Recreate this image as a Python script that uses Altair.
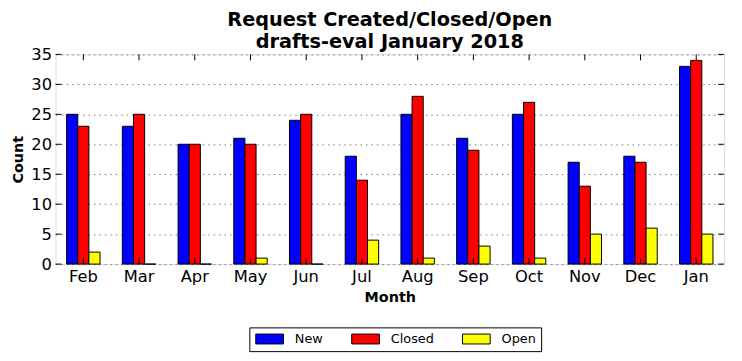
import altair as alt
import pandas as pd

months = ["Feb", "Mar", "Apr", "May", "Jun", "Jul", "Aug", "Sep", "Oct", "Nov", "Dec", "Jan"]
new_vals = [25, 23, 20, 21, 24, 18, 25, 21, 25, 17, 18, 33]
closed_vals = [23, 25, 20, 20, 25, 14, 28, 19, 27, 13, 17, 34]
open_vals = [2, 0, 0, 1, 0, 4, 1, 3, 1, 5, 6, 5]
series = ["New", "Closed", "Open"]
colors = ["#0000ff", "#ff0000", "#ffff00"]
y_ticks = [0, 5, 10, 15, 20, 25, 30, 35]

rows = []
for name, vals in zip(series, [new_vals, closed_vals, open_vals]):
    for m, v in zip(months, vals):
        rows.append({"Month": m, "Series": name, "Count": v})
df = pd.DataFrame(rows)
ticks_df = pd.DataFrame({"v": y_ticks})
months_df = pd.DataFrame({"Month": months})

W, H = 676, 212
FONT = "DejaVu Sans"

x_scale = alt.Scale(domain=months, paddingInner=0.4, paddingOuter=0.2)
y_scale = alt.Scale(domain=[0, 35], nice=False)

x_axis = alt.Axis(title="Month", labelAngle=0, labelFontSize=16.5, tickSize=0,
                  labelPadding=5, titleFontSize=14.5, titleFontWeight="bold",
                  titlePadding=5, domain=False, labelColor="black", titleColor="black")
y_axis = alt.Axis(title="Count", values=y_ticks, labelFontSize=16.5, tickSize=0,
                  labelPadding=4, titleFontSize=14.5, titleFontWeight="bold",
                  titlePadding=5, domain=False, grid=True, gridColor="#7a7a7a",
                  gridDash=[1.5, 4], gridWidth=1, labelColor="black", titleColor="black",
                  labelOverlap=False, labelBaseline="middle")

bars = alt.Chart(df).mark_bar(stroke="black", strokeWidth=1).encode(
    x=alt.X("Month:N", scale=x_scale, sort=months, axis=x_axis),
    xOffset=alt.XOffset("Series:N", sort=series, scale=alt.Scale(domain=series, paddingInner=0, paddingOuter=0)),
    y=alt.Y("Count:Q", scale=y_scale, axis=y_axis),
    color=alt.Color("Series:N", sort=series,
                    scale=alt.Scale(domain=series, range=colors),
                    legend=alt.Legend(title=None, orient="none", legendX=196, legendY=276,
                                      direction="horizontal",
                                      symbolType="M-1,-1H4.6V1H-1Z", symbolSize=100,
                                      symbolStrokeColor="black", symbolStrokeWidth=1,
                                      labelFontSize=13, labelColor="black", labelOffset=28,
                                      columnPadding=26, padding=5,
                                      fillColor="white", strokeColor="black")),
)

yl = alt.Chart(ticks_df).mark_rule(color="black").encode(
    y=alt.Y("v:Q", scale=y_scale, axis=y_axis), x=alt.value(0), x2=alt.value(6))
yr = alt.Chart(ticks_df).mark_rule(color="black").encode(
    y=alt.Y("v:Q", scale=y_scale, axis=y_axis), x=alt.value(W - 6), x2=alt.value(W))
xb = alt.Chart(months_df).mark_rule(color="black").encode(
    x=alt.X("Month:N", scale=x_scale, sort=months, axis=x_axis), y=alt.value(H - 6), y2=alt.value(H))
xt = alt.Chart(months_df).mark_rule(color="black").encode(
    x=alt.X("Month:N", scale=x_scale, sort=months, axis=x_axis), y=alt.value(0), y2=alt.value(6))

chart = alt.layer(bars, yl, yr, xb, xt).properties(
    width=W, height=H,
    title=alt.TitleParams(["Request Created/Closed/Open", "drafts-eval January 2018"],
                          fontSize=19.5, fontWeight="bold", font=FONT, color="black",
                          anchor="middle", offset=-6, lineHeight=22),
    autosize=alt.AutoSizeParams(type="none"),
    padding={"left": 48, "top": 45, "right": 10, "bottom": 90},
).configure_view(
    fill="#bfbfbf", stroke="black", strokeWidth=1
).configure(
    font=FONT, background="white"
)

chart.save("out.html", embed_options={"renderer": "svg", "actions": False})
